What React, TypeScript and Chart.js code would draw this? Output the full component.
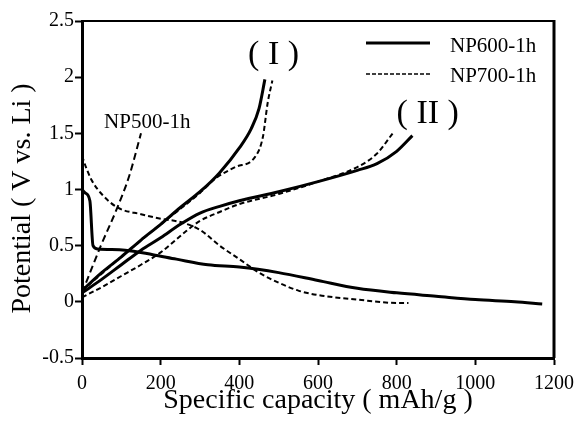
import React, { useEffect, useRef } from "react";
import { Chart, registerables } from "chart.js";

Chart.register(...registerables);

const FONT = '"Liberation Serif", "Times New Roman", Times, serif';

// NP600-1h discharge
const np600DisX = [0, 8, 20, 28, 40, 110, 180, 240, 320, 400, 500, 600, 700, 800, 900, 1000, 1100, 1170];
const np600DisY = [1.0, 0.97, 0.9, 0.5, 0.47, 0.46, 0.42, 0.38, 0.33, 0.31, 0.26, 0.19, 0.12, 0.08, 0.05, 0.02, 0.0, -0.02];
// NP600-1h charge (I)
const np600ChIX = [0, 50, 100, 150, 200, 250, 300, 350, 400, 430, 450, 465];
const np600ChIY = [0.1, 0.26, 0.4, 0.55, 0.69, 0.84, 0.98, 1.15, 1.37, 1.54, 1.72, 1.98];
// NP600-1h charge (II)
const np600ChIIX = [0, 50, 100, 150, 200, 250, 300, 350, 400, 500, 600, 700, 750, 800, 840];
const np600ChIIY = [0.08, 0.2, 0.33, 0.46, 0.57, 0.69, 0.79, 0.85, 0.9, 0.98, 1.07, 1.17, 1.23, 1.34, 1.48];
// NP700-1h discharge
const np700DisX = [0, 10, 25, 50, 90, 150, 200, 250, 300, 350, 400, 450, 500, 550, 600, 700, 800, 830];
const np700DisY = [1.3, 1.2, 1.08, 0.96, 0.84, 0.78, 0.74, 0.71, 0.64, 0.5, 0.38, 0.26, 0.17, 0.1, 0.06, 0.02, -0.01, -0.01];
// NP700-1h charge (I)
const np700ChIX = [0, 100, 200, 300, 340, 390, 440, 460, 472, 484];
const np700ChIY = [0.1, 0.4, 0.69, 0.97, 1.1, 1.2, 1.29, 1.47, 1.77, 1.97];
// NP700-1h charge (II)
const np700ChIIX = [0, 50, 100, 150, 200, 265, 300, 350, 400, 500, 600, 700, 750, 790];
const np700ChIIY = [0.04, 0.13, 0.23, 0.33, 0.44, 0.63, 0.72, 0.8, 0.87, 0.96, 1.07, 1.2, 1.32, 1.5];
// NP500-1h charge
const np500ChX = [0, 48, 90, 120, 150];
const np500ChY = [0.08, 0.5, 0.84, 1.12, 1.5];

const xTicks = [0, 200, 400, 600, 800, 1000, 1200];
const yTicks = [-0.5, 0, 0.5, 1, 1.5, 2, 2.5];

const legendLabels = ["NP600-1h", "NP700-1h"];
const xTitle = "Specific capacity ( mAh/g )";
const yTitle = "Potential ( V vs. Li )";

function pts(xs: number[], ys: number[]) {
  return xs.map((x, i) => ({ x, y: ys[i] }));
}

const decorPlugin = {
  id: "decor",
  beforeDraw(chart: any) {
    const { ctx, width, height } = chart;
    ctx.save();
    ctx.fillStyle = "#fff";
    ctx.fillRect(0, 0, width, height);
    ctx.restore();
  },
  afterDraw(chart: any) {
    const { ctx, chartArea } = chart;
    const xs = chart.scales.x;
    const ys = chart.scales.y;
    const { left, right, top, bottom } = chartArea;
    ctx.save();
    // frame: top and right
    ctx.strokeStyle = "#000";
    ctx.lineWidth = 2;
    ctx.beginPath();
    ctx.moveTo(left, top);
    ctx.lineTo(right, top);
    ctx.stroke();
    ctx.lineWidth = 3;
    ctx.beginPath();
    ctx.moveTo(right, top - 1);
    ctx.lineTo(right, bottom);
    ctx.stroke();

    ctx.fillStyle = "#000";
    // axis titles
    ctx.font = `28px ${FONT}`;
    ctx.textAlign = "center";
    ctx.textBaseline = "middle";
    ctx.fillText(xTitle, (left + right) / 2, bottom + 43);
    ctx.save();
    ctx.translate(23, (top + bottom) / 2 + 9);
    ctx.rotate(-Math.PI / 2);
    ctx.fillText(yTitle, 0, 0);
    ctx.restore();

    // curve labels
    ctx.font = `34px ${FONT}`;
    ctx.fillText("( I )", xs.getPixelForValue(487), ys.getPixelForValue(2.2));
    ctx.fillText("( II )", xs.getPixelForValue(879), ys.getPixelForValue(1.67));
    ctx.font = `21px ${FONT}`;
    ctx.fillText("NP500-1h", xs.getPixelForValue(166), ys.getPixelForValue(1.6));

    // legend
    const lx0 = right - 188;
    const lx1 = right - 124;
    ctx.textAlign = "left";
    ctx.lineWidth = 3;
    ctx.setLineDash([]);
    ctx.beginPath();
    ctx.moveTo(lx0, top + 22);
    ctx.lineTo(lx1, top + 22);
    ctx.stroke();
    ctx.fillText(legendLabels[0], right - 104, top + 25);
    ctx.lineWidth = 1.6;
    ctx.setLineDash([4, 2]);
    ctx.beginPath();
    ctx.moveTo(lx0, top + 53);
    ctx.lineTo(lx1, top + 53);
    ctx.stroke();
    ctx.setLineDash([]);
    ctx.fillText(legendLabels[1], right - 104, top + 55);
    ctx.restore();
  },
};

export default function App() {
  const ref = useRef<HTMLCanvasElement | null>(null);
  useEffect(() => {
    document.body.style.margin = "0";
    const canvas = ref.current;
    if (!canvas) return;
    const solid = { borderColor: "#000", borderWidth: 3, pointRadius: 0, fill: false, cubicInterpolationMode: "monotone" as const };
    const dashed = { borderColor: "#000", borderWidth: 2, pointRadius: 0, fill: false, borderDash: [5, 3], cubicInterpolationMode: "monotone" as const };
    const chart = new Chart(canvas, {
      type: "line",
      data: {
        datasets: [
          { label: "NP600-1h discharge", data: pts(np600DisX, np600DisY), ...solid },
          { label: "NP600-1h charge I", data: pts(np600ChIX, np600ChIY), ...solid },
          { label: "NP600-1h charge II", data: pts(np600ChIIX, np600ChIIY), ...solid },
          { label: "NP700-1h discharge", data: pts(np700DisX, np700DisY), ...dashed },
          { label: "NP700-1h charge I", data: pts(np700ChIX, np700ChIY), ...dashed },
          { label: "NP700-1h charge II", data: pts(np700ChIIX, np700ChIIY), ...dashed },
          { label: "NP500-1h", data: pts(np500ChX, np500ChY), ...dashed, borderDash: [7, 4] },
        ],
      },
      options: {
        animation: false,
        responsive: false,
        parsing: false as any,
        layout: { padding: { top: 21, right: 25, left: 0, bottom: 0 } },
        plugins: { legend: { display: false }, tooltip: { enabled: false }, title: { display: false } },
        scales: {
          x: {
            type: "linear",
            min: 0,
            max: 1200,
            afterFit: (s: any) => { s.height = 63; },
            afterBuildTicks: (s: any) => { s.ticks = xTicks.map((v) => ({ value: v })); },
            ticks: {
              autoSkip: false,
              maxRotation: 0,
              padding: 7,
              color: "#000",
              font: { family: FONT, size: 20 },
              callback: (v: any) => String(v),
            },
            grid: { drawOnChartArea: false, tickLength: 7, tickWidth: 2, tickColor: "#000" },
            border: { display: true, color: "#000", width: 3 },
          },
          y: {
            type: "linear",
            min: -0.5,
            max: 2.5,
            afterFit: (s: any) => { s.width = 82; },
            afterBuildTicks: (s: any) => { s.ticks = yTicks.map((v) => ({ value: v })); },
            ticks: {
              padding: 1,
              color: "#000",
              font: { family: FONT, size: 20 },
              callback: (v: any) => String(Math.round(Number(v) * 10) / 10),
            },
            grid: { drawOnChartArea: false, tickLength: 7, tickWidth: 2, tickColor: "#000" },
            border: { display: true, color: "#000", width: 3 },
          },
        },
      },
      plugins: [decorPlugin],
    });
    return () => chart.destroy();
  }, []);
  return (
    <div style={{ width: 581, height: 421 }}>
      <canvas ref={ref} width={581} height={421} style={{ display: "block" }} />
    </div>
  );
}
